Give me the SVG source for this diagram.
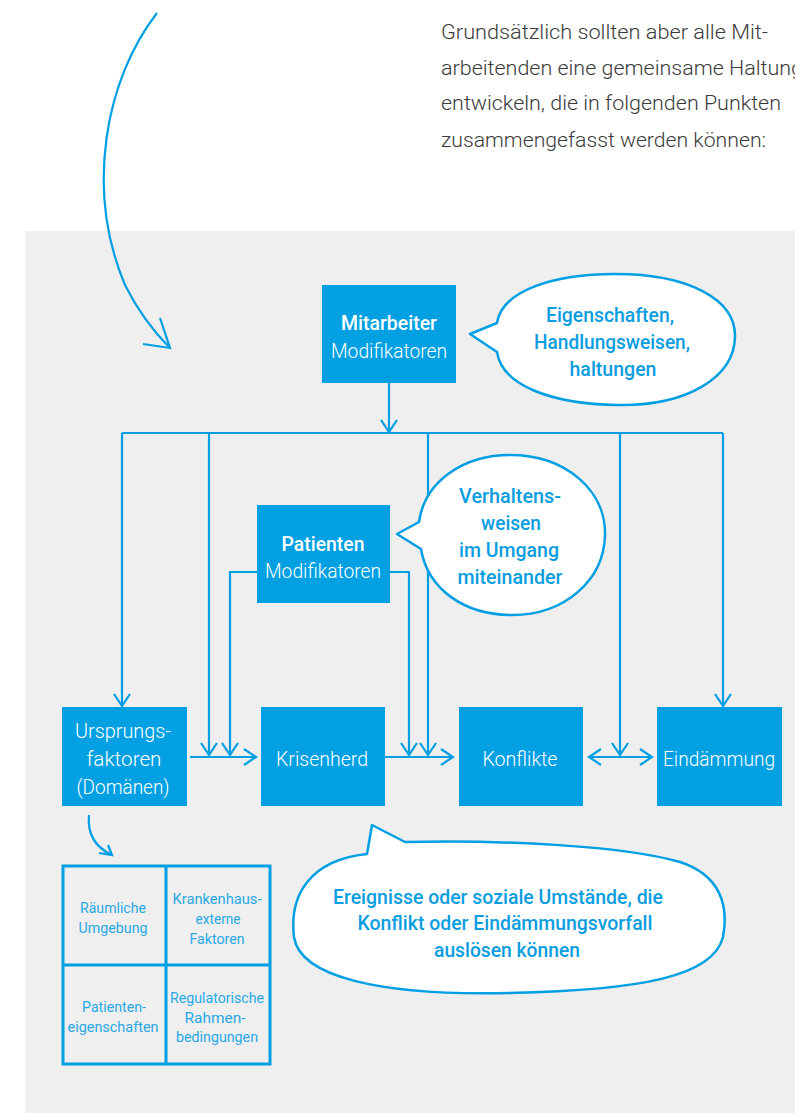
<svg xmlns="http://www.w3.org/2000/svg" width="795" height="1113" viewBox="0 0 795 1113">
<defs>
<style>
.t{font-family:Roboto,"Liberation Sans",sans-serif}
.para{font-size:21px;font-weight:300;fill:#3a3a3a}
.box{fill:#00A0E3}
.bt{font-size:20.5px;fill:#fff;text-anchor:middle}
.bold{font-weight:500}
.light{font-weight:300}
.bub{fill:#fff;stroke:#009FE3;stroke-width:2.5;stroke-linejoin:round}
.bubt{font-size:19.5px;font-weight:500;fill:#0A9DE0;text-anchor:middle}
.ln{fill:none;stroke:#009FE3;stroke-width:2.2}
.grid{fill:none;stroke:#009FE3;stroke-width:3}
.gt{font-size:14.5px;font-weight:400;fill:#2AA8E6;text-anchor:middle}
</style>
<marker id="ah" markerUnits="userSpaceOnUse" markerWidth="16" markerHeight="20" refX="14" refY="10" orient="auto-start-reverse">
<path d="M2,2 L14,10 L2,18" fill="none" stroke="#009FE3" stroke-width="2.2"/>
</marker>
</defs>
<rect width="795" height="1113" fill="#fff"/>
<rect x="25" y="231" width="770" height="882" fill="#EFEFEF"/>

<g id="intro" class="t para">
<text x="441" y="39" textLength="327" lengthAdjust="spacingAndGlyphs">Grundsätzlich sollten aber alle Mit-</text>
<text x="441" y="75" textLength="362" lengthAdjust="spacingAndGlyphs">arbeitenden eine gemeinsame Haltung</text>
<text x="441" y="110" textLength="340" lengthAdjust="spacingAndGlyphs">entwickeln, die in folgenden Punkten</text>
<text x="441" y="147" textLength="325" lengthAdjust="spacingAndGlyphs">zusammengefasst werden können:</text>
</g>

<g id="connectors">
<path class="ln" d="M157,13 C105,80 85,190 125,285 C140,315 155,333 170,348"/>
<path class="ln" d="M143,344 L170,348 L160,318"/>
<path class="ln" d="M389,383 V432" marker-end="url(#ah)"/>
<path class="ln" d="M122,433 H723"/>
<path class="ln" d="M122,433 V706" marker-end="url(#ah)"/>
<path class="ln" d="M209,433 V755" marker-end="url(#ah)"/>
<path class="ln" d="M428,433 V755" marker-end="url(#ah)"/>
<path class="ln" d="M620,433 V755" marker-end="url(#ah)"/>
<path class="ln" d="M723,433 V706" marker-end="url(#ah)"/>
<path class="ln" d="M257,572 H230 V755" marker-end="url(#ah)"/>
<path class="ln" d="M390,572 H409 V755" marker-end="url(#ah)"/>
<path class="ln" d="M190,757 H256" marker-end="url(#ah)"/>
<path class="ln" d="M385,757 H453" marker-end="url(#ah)"/>
<path class="ln" d="M589,757 H652" marker-start="url(#ah)" marker-end="url(#ah)"/>
<path class="ln" d="M89,815 C87,835 97,848 112,855"/>
<path class="ln" d="M99,853 L112,855 L108,845"/>
</g>

<g id="mitarbeiter">
<rect class="box" x="322" y="285" width="134" height="98"/>
<text class="t bt bold" x="389" y="330" textLength="96" lengthAdjust="spacingAndGlyphs">Mitarbeiter</text>
<text class="t bt light" x="389" y="358" textLength="116" lengthAdjust="spacingAndGlyphs">Modifikatoren</text>
</g>

<g id="bubble-mitarbeiter">
<path class="bub" d="M497,323 C502,290 555,274 615,274 C690,274 736,300 735,337 C734,377 688,406 618,405 C550,404 502,385 497,352 L470,334 Z"/>
<text class="t bubt" x="610" y="322" textLength="128" lengthAdjust="spacingAndGlyphs">Eigenschaften,</text>
<text class="t bubt" x="612" y="349" textLength="156" lengthAdjust="spacingAndGlyphs">Handlungsweisen,</text>
<text class="t bubt" x="613" y="376" textLength="87" lengthAdjust="spacingAndGlyphs">haltungen</text>
</g>

<g id="patienten">
<rect class="box" x="257" y="505" width="133" height="98"/>
<text class="t bt bold" x="323" y="551" textLength="83" lengthAdjust="spacingAndGlyphs">Patienten</text>
<text class="t bt light" x="323" y="578" textLength="116" lengthAdjust="spacingAndGlyphs">Modifikatoren</text>
</g>

<g id="bubble-patienten">
<path class="bub" d="M419,522 C425,480 465,455 510,455 C565,455 606,490 605,535 C604,580 565,615 512,615 C465,615 428,590 421,549 L397,534 Z"/>
<text class="t bubt" x="510" y="503" textLength="102" lengthAdjust="spacingAndGlyphs">Verhaltens-</text>
<text class="t bubt" x="511" y="530" textLength="60" lengthAdjust="spacingAndGlyphs">weisen</text>
<text class="t bubt" x="509" y="557" textLength="100" lengthAdjust="spacingAndGlyphs">im Umgang</text>
<text class="t bubt" x="510" y="584" textLength="105" lengthAdjust="spacingAndGlyphs">miteinander</text>
</g>

<g id="ursprung">
<rect class="box" x="62" y="707" width="125" height="99"/>
<text class="t bt light" x="123" y="738" textLength="96" lengthAdjust="spacingAndGlyphs">Ursprungs-</text>
<text class="t bt light" x="124" y="766" textLength="75" lengthAdjust="spacingAndGlyphs">faktoren</text>
<text class="t bt light" x="123" y="794" textLength="93" lengthAdjust="spacingAndGlyphs">(Domänen)</text>
</g>

<g id="krisenherd">
<rect class="box" x="261" y="707" width="124" height="99"/>
<text class="t bt light" x="322" y="766" textLength="92" lengthAdjust="spacingAndGlyphs">Krisenherd</text>
</g>

<g id="konflikte">
<rect class="box" x="459" y="707" width="124" height="99"/>
<text class="t bt light" x="520" y="766" textLength="75" lengthAdjust="spacingAndGlyphs">Konflikte</text>
</g>

<g id="eindaemmung">
<rect class="box" x="657" y="707" width="125" height="99"/>
<text class="t bt light" x="719" y="766" textLength="112" lengthAdjust="spacingAndGlyphs">Eindämmung</text>
</g>

<g id="domaenen">
<rect class="grid" x="63" y="866" width="207" height="198"/>
<path class="grid" d="M166,866 V1064 M63,965 H270"/>
<text class="t gt" x="113" y="913" textLength="66" lengthAdjust="spacingAndGlyphs">Räumliche</text>
<text class="t gt" x="113" y="933" textLength="69" lengthAdjust="spacingAndGlyphs">Umgebung</text>
<text class="t gt" x="217" y="904" textLength="89" lengthAdjust="spacingAndGlyphs">Krankenhaus-</text>
<text class="t gt" x="218" y="924" textLength="45" lengthAdjust="spacingAndGlyphs">externe</text>
<text class="t gt" x="217" y="944" textLength="55" lengthAdjust="spacingAndGlyphs">Faktoren</text>
<text class="t gt" x="114" y="1012" textLength="64" lengthAdjust="spacingAndGlyphs">Patienten-</text>
<text class="t gt" x="113" y="1032" textLength="91" lengthAdjust="spacingAndGlyphs">eigenschaften</text>
<text class="t gt" x="217" y="1003" textLength="94" lengthAdjust="spacingAndGlyphs">Regulatorische</text>
<text class="t gt" x="215" y="1023" textLength="61" lengthAdjust="spacingAndGlyphs">Rahmen-</text>
<text class="t gt" x="217" y="1042" textLength="82" lengthAdjust="spacingAndGlyphs">bedingungen</text>
</g>

<g id="bubble-ereignisse">
<path class="bub" d="M405,842 C500,840 620,845 680,862 C720,875 729,905 723,937 C713,977 640,990 510,993 C380,996 300,977 294,937 C289,895 310,860 367,854 L372,825 Z"/>
<text class="t bubt" x="498" y="904" textLength="330" lengthAdjust="spacingAndGlyphs">Ereignisse oder soziale Umstände, die</text>
<text class="t bubt" x="505" y="930" textLength="295" lengthAdjust="spacingAndGlyphs">Konflikt oder Eindämmungsvorfall</text>
<text class="t bubt" x="507" y="957" textLength="146" lengthAdjust="spacingAndGlyphs">auslösen können</text>
</g>
</svg>
